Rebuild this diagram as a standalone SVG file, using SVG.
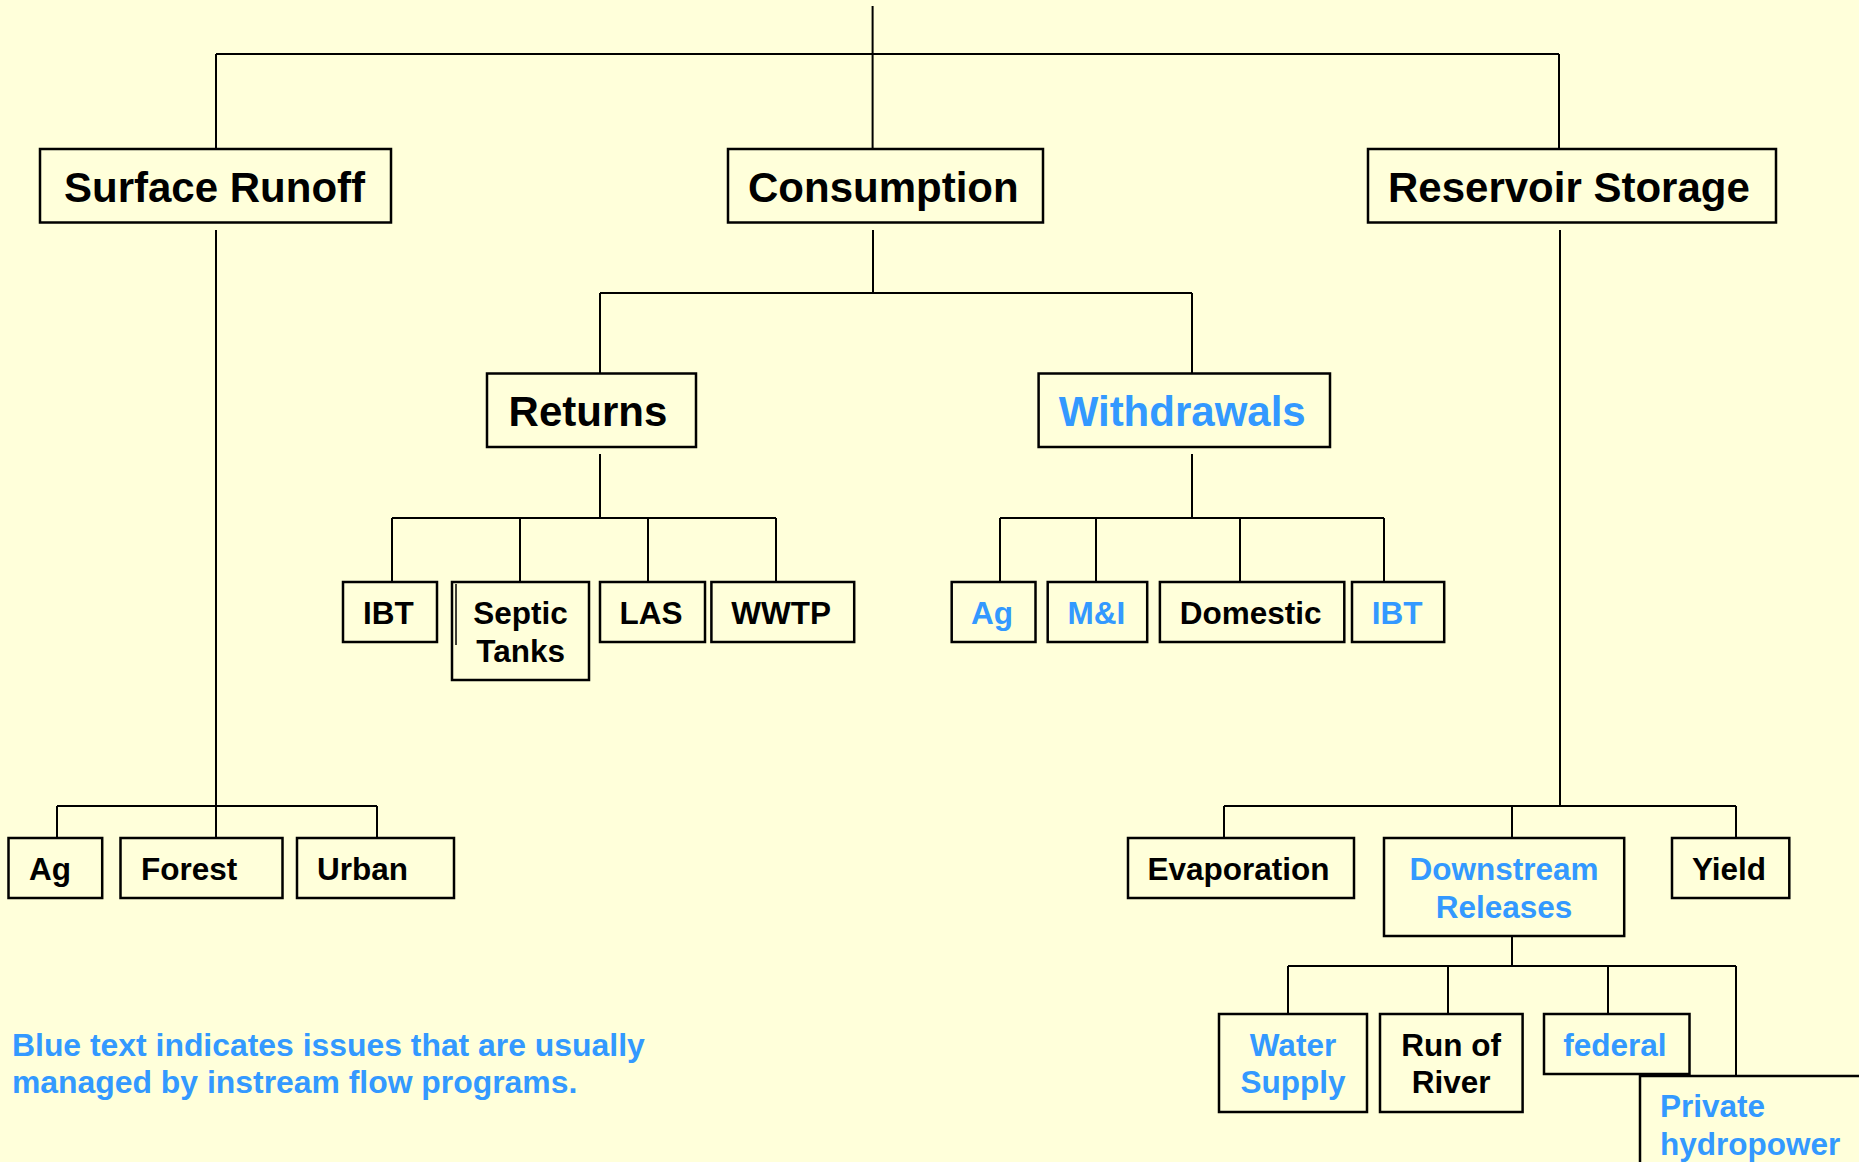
<svg xmlns="http://www.w3.org/2000/svg" width="1859" height="1162" viewBox="0 0 1859 1162">
<style>
.bg{fill:#FFFFDA}
.box{fill:#FFFFDA;stroke:#000;stroke-width:2.5}
.con path{fill:none;stroke:#000;stroke-width:2}
text{font-family:"Liberation Sans",Arial,Helvetica,sans-serif;font-weight:bold;fill:#000}
.l{font-size:42px}
.s{font-size:31.5px}
.g{font-size:31.9px}
.c{text-anchor:middle}
.b{fill:#3399FF}
</style>
<rect class="bg" x="0" y="0" width="1859" height="1162"/>
<g id="connectors" class="con">
<path d="M872.6 6V149M216 54H1559M216 54V149M1559 54V149"/>
<path d="M216 230V838M57 806H377M57 806V838M377 806V838"/>
<path d="M873 230V293M600 293H1192M600 293V373.5M1192 293V373.5"/>
<path d="M600 454V518M392 518H776M392 518V582M520 518V582M648 518V582M776 518V582"/>
<path d="M1192 454V518M1000 518H1384M1000 518V582M1096 518V582M1240 518V582M1384 518V582"/>
<path d="M1560 230V806M1224 806H1736M1224 806V838M1512 806V838M1736 806V838"/>
<path d="M1512 936V966M1288 966H1736M1288 966V1014M1448 966V1014M1608 966V1014M1736 966V1077"/>
</g>
<g id="surface-runoff"><rect class="box" x="40" y="149" width="351" height="73.5"/><text class="l" x="64" y="201.5">Surface Runoff</text></g>
<g id="consumption"><rect class="box" x="728" y="149" width="315" height="73.5"/><text class="l" x="748" y="201.5">Consumption</text></g>
<g id="reservoir-storage"><rect class="box" x="1368" y="149" width="408" height="73.5"/><text class="l" x="1388" y="201.5">Reservoir Storage</text></g>
<g id="returns"><rect class="box" x="487" y="373.5" width="209" height="73.5"/><text class="l" x="508.6" y="425.5">Returns</text></g>
<g id="withdrawals"><rect class="box" x="1038.6" y="373.5" width="291.4" height="73.5"/><text class="l b" x="1058.7" y="425.5">Withdrawals</text></g>
<g id="ret-ibt"><rect class="box" x="343" y="582" width="94" height="60"/><text class="s" x="363" y="623.5">IBT</text></g>
<g id="septic-tanks"><rect class="box" x="452" y="582" width="137" height="98"/><path d="M456 584V645" stroke="#000" stroke-width="1.5"/><text class="s c" x="520.6" y="623.5">Septic</text><text class="s c" x="520.6" y="661.5">Tanks</text></g>
<g id="las"><rect class="box" x="600" y="582" width="105" height="60"/><text class="s" x="619.6" y="623.5">LAS</text></g>
<g id="wwtp"><rect class="box" x="711.4" y="582" width="142.8" height="60"/><text class="s" x="731.3" y="623.5">WWTP</text></g>
<g id="wd-ag"><rect class="box" x="951.7" y="582" width="83.8" height="60"/><text class="s c b" x="992" y="623.5">Ag</text></g>
<g id="wd-mi"><rect class="box" x="1047.7" y="582" width="99.5" height="60"/><text class="s c b" x="1096.4" y="623.5">M&amp;I</text></g>
<g id="domestic"><rect class="box" x="1159.9" y="582" width="184.4" height="60"/><text class="s" x="1179.7" y="623.5">Domestic</text></g>
<g id="wd-ibt"><rect class="box" x="1352" y="582" width="92.2" height="60"/><text class="s c b" x="1397" y="623.5">IBT</text></g>
<g id="sr-ag"><rect class="box" x="8.5" y="838" width="93.7" height="60"/><text class="s" x="29" y="879.8">Ag</text></g>
<g id="forest"><rect class="box" x="120.5" y="838" width="162" height="60"/><text class="s" x="141" y="879.8">Forest</text></g>
<g id="urban"><rect class="box" x="297" y="838" width="157" height="60"/><text class="s" x="317" y="879.8">Urban</text></g>
<g id="evaporation"><rect class="box" x="1128" y="838" width="226" height="60"/><text class="s" x="1147.4" y="879.8">Evaporation</text></g>
<g id="downstream-releases"><rect class="box" x="1384" y="838" width="240.2" height="98"/><text class="s c b" x="1504" y="879.8">Downstream</text><text class="s c b" x="1504" y="917.5">Releases</text></g>
<g id="yield"><rect class="box" x="1672" y="838" width="117.3" height="60"/><text class="s" x="1692" y="879.8">Yield</text></g>
<g id="water-supply"><rect class="box" x="1219" y="1014" width="148" height="98"/><text class="s c b" x="1293" y="1055.5">Water</text><text class="s c b" x="1293" y="1093.2">Supply</text></g>
<g id="run-of-river"><rect class="box" x="1380" y="1014" width="142.6" height="98"/><text class="s c" x="1451.2" y="1055.5">Run of</text><text class="s c" x="1451.2" y="1093.2">River</text></g>
<g id="federal"><rect class="box" x="1544" y="1014" width="145.5" height="60"/><text class="s b" x="1563.2" y="1055.5">federal</text></g>
<g id="private-hydropower"><rect class="box" x="1640" y="1076" width="240" height="110"/><text class="s b" x="1660" y="1116.5">Private</text><text class="s b" x="1660" y="1154.8">hydropower</text></g>
<g id="legend"><text class="g b" x="12" y="1056">Blue text indicates issues that are usually</text><text class="g b" x="12" y="1093">managed by instream flow programs.</text></g>
</svg>
